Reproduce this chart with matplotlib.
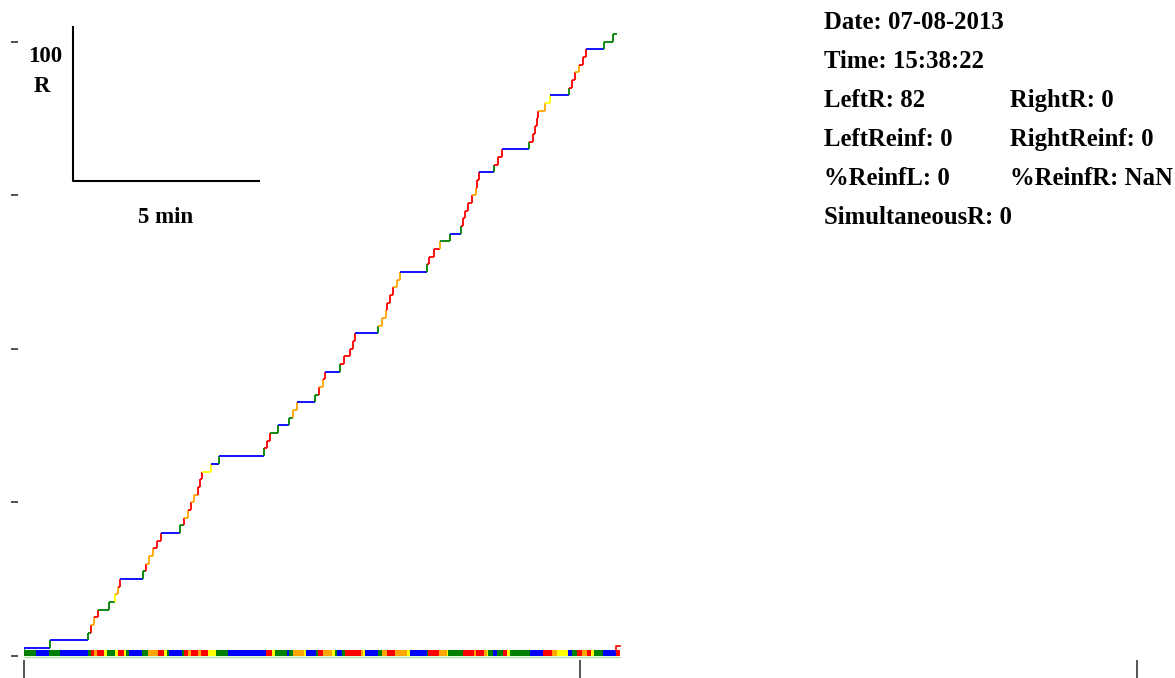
import matplotlib
matplotlib.use("Agg")
import matplotlib.pyplot as plt
from matplotlib.collections import LineCollection

# colour codes used by the session record
palette = {'B': '#0000ff', 'G': '#008000', 'R': '#ff0000',
           'O': '#ffa500', 'Y': '#ffff00'}

# cumulative record: time (min) of each 5-response step
step_t = [0.00, 0.71, 1.73, 1.82, 1.91, 2.00, 2.31, 2.47, 2.56, 2.60,
          3.21, 3.30, 3.39, 3.50, 3.60, 3.70, 4.22, 4.33, 4.43, 4.51,
          4.60, 4.70, 4.77, 4.80, 5.05, 5.27, 6.49, 6.57, 6.64, 6.87,
          7.16, 7.27, 7.36, 7.87, 7.96, 8.07, 8.14, 8.53, 8.64, 8.80,
          8.89, 8.94, 9.56, 9.66, 9.77, 9.81, 9.88, 9.97, 10.06, 10.15,
          10.87, 10.94, 11.07, 11.23, 11.50, 11.80, 11.85, 11.90, 11.98, 12.08,
          12.20, 12.23, 12.27, 12.68, 12.80, 12.89, 13.63, 13.73, 13.79, 13.83,
          13.88, 14.07, 14.19, 14.70, 14.78, 14.87, 14.97, 15.07, 15.15, 15.66,
          15.90]
end_t = 16.0
step_size = 5

rise_colors = list("GGGRORGYOR" "GROORRGROR" "ORRRYGGRRG" "GOOGRORGRR"
                   "RRGOORRROO" "GRROGGRRRR" "ORRGRRGRRR" "ROYGRRORRG" "G")
run_colors = list("BBGORGGORB" "GOORRBGORO" "ORRYBBRRGB" "GOBGORBRRR"
                  "RBOORRROOB" "RRRGBRRRRO" "RRBRRBRRRR" "OYBRRORRBG" "G")

# event bar along the time axis: start time (min) and code of each block
bar_t = [0.00, 0.33, 0.70, 0.98, 1.73, 1.82, 1.90, 1.99, 2.17, 2.26,
         2.47, 2.56, 2.71, 2.76, 2.85, 3.19, 3.36, 3.63, 3.79, 3.86,
         3.92, 4.26, 4.33, 4.44, 4.52, 4.71, 4.78, 4.98, 5.19, 5.52,
         6.54, 6.69, 6.78, 7.11, 7.16, 7.26, 7.56, 7.62, 7.88, 7.95,
         8.08, 8.31, 8.40, 8.44, 8.58, 8.67, 9.09, 9.14, 9.21, 9.56,
         9.66, 9.79, 10.01, 10.35, 10.42, 10.87, 10.91, 11.21, 11.41, 11.45,
         11.85, 12.14, 12.20, 12.41, 12.49, 12.53, 12.66, 12.76, 12.93, 13.02,
         13.11, 13.65, 14.01, 14.24, 14.39, 14.69, 14.78, 14.93, 15.05, 15.20,
         15.29, 15.38, 15.63, 15.97]
bar_end = 16.08
bar_colors = list("GBGBGRORYG" "YRYGBGORYG" "BGRORORYGB" "RYGBGOYBGR"
                  "OYGBGROYBG" "OROYBGROYG" "ROROYGBGRY" "GBROYBGROR" "YGBR")

info_left = ["Date: 07-08-2013", "Time: 15:38:22", "LeftR: 82",
             "LeftReinf: 0", "%ReinfL: 0", "SimultaneousR: 0"]
info_right = ["", "", "RightR: 0", "RightReinf: 0", "%ReinfR: NaN", ""]

W, H = 1175, 678
fig = plt.figure(figsize=(W / 100, H / 100), dpi=100)
ax = fig.add_axes([23.5 / W, 22.3 / H, 1113 / W, 655.7 / H])
ax.set_xlim(0, 30)
ax.set_ylim(0, 427.2)

# steps of the cumulative record
segs, cols = [], []
for i, t in enumerate(step_t):
    lo, hi = step_size * i, step_size * (i + 1)
    t_next = step_t[i + 1] if i + 1 < len(step_t) else end_t
    segs.append([(t, lo), (t, hi)])
    cols.append(palette[rise_colors[i]])
    segs.append([(t, hi), (t_next, hi)])
    cols.append(palette[run_colors[i]])
ax.add_collection(LineCollection(segs, colors=cols, linewidths=1.3, zorder=2))

# event bar
bar_stop = bar_t[1:] + [bar_end]
ax.broken_barh([(a, b - a) for a, b in zip(bar_t, bar_stop)], (-0.2, 4.1),
               facecolors=[palette[c] for c in bar_colors], zorder=3, clip_on=False)
ax.plot([0, bar_end], [-0.9, -0.9], color='#a8e8a0', lw=1, zorder=3, clip_on=False)
ax.plot([15.98, 15.98, 16.08], [3.9, 6.2, 6.2], color='#ff0000', lw=1.2, zorder=4)

# scale bar: 100 responses by 5 minutes
sx, sy = 1.34, 309.4
ax.plot([sx, sx, sx + 5], [sy + 100, sy, sy], color='black', lw=1.5)

for s in ax.spines.values():
    s.set_visible(False)
ax.spines['left'].set_position(('outward', 4.3))
ax.spines['bottom'].set_position(('outward', 3))
ax.set_yticks([0, 100, 200, 300, 400])
ax.set_xticks([0, 15, 30])
ax.tick_params(axis='y', direction='out', length=5, width=1.2, color='#333333',
               labelleft=False)
ax.tick_params(axis='x', direction='out', length=16, width=1.4, color='#555555',
               labelbottom=False)

font = dict(family='Liberation Serif', weight='bold', fontsize=16.5)
fig.text(45 / W, 1 - 61.7 / H, "100", ha='center', va='baseline', **font)
fig.text(41.7 / W, 1 - 91.7 / H, "R", ha='center', va='baseline', **font)
fig.text(166 / W, 1 - 222.7 / H, "5 min", ha='center', va='baseline', **font)

info_font = dict(font, fontsize=17.8)
for i, (a, b) in enumerate(zip(info_left, info_right)):
    y = 1 - (29.3 + 39 * i) / H
    fig.text(823.5 / W, y, a, ha='left', va='baseline', **info_font)
    if b:
        fig.text(1010.5 / W, y, b, ha='left', va='baseline', **info_font)

fig.savefig("out.png", dpi=100)
